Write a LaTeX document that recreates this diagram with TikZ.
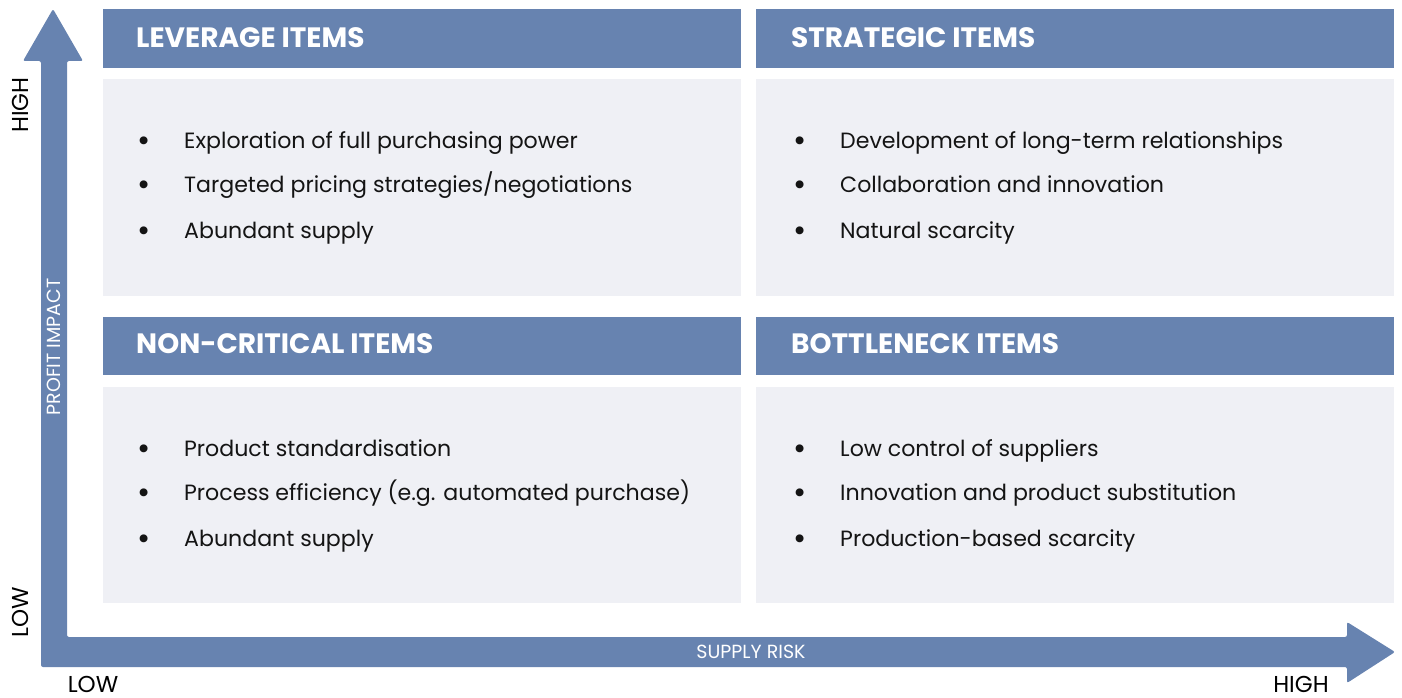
\documentclass[tikz,border=0pt]{standalone}
\usepackage{fontspec}
\setmainfont{Poppins}
\newfontfamily\itemfont{Poppins}
\newfontfamily\headfont{Poppins}
\definecolor{matrixblue}{HTML}{6783B0}
\definecolor{panelgrey}{HTML}{EFF0F5}
\definecolor{inktext}{HTML}{141414}
\tikzset{
  head/.style={fill=matrixblue, draw=none, minimum width=638, minimum height=59, inner sep=0, anchor=north west},
  panel/.style={fill=panelgrey, draw=none, minimum width=638, minimum height=217, inner sep=0, anchor=north west},
  headtext/.style={anchor=base west, inner sep=0, text=white, font=\headfont\bfseries\fontsize{28}{28}\selectfont},
  itemtext/.style={anchor=base west, inner sep=0, text=inktext, font=\itemfont\fontsize{22.1}{22.1}\selectfont},
  bullet/.style={anchor=base, inner sep=0, text=inktext, font=\itemfont\fontsize{32}{32}\selectfont},
  axislabel/.style={inner sep=0, text=black, font=\fontsize{23}{23}\selectfont},
  axisname/.style={inner sep=0, text=white, font=\fontsize{19}{19}\selectfont},
}
\begin{document}
\begin{tikzpicture}[x=1pt,y=-1pt]
\useasboundingbox (0,0) rectangle (1402,698);

% axes: one L-shaped arrow body with two heads
\coordinate (ytip) at (53,9);
\coordinate (xtip) at (1395,652);
\fill[matrixblue, rounded corners=2]
  (41,667) -- (41,61) -- (23,61) -- (ytip) -- (83,61) -- (67,61)
  -- (67,637) -- (1347,637) -- (1347,622) -- (xtip) -- (1347,683)
  -- (1347,667) -- cycle;

% quadrant headers
\node[head] (hLev) at (103,9) {};
\node[head] (hStr) at (756,9) {};
\node[head, minimum height=58] (hNon) at (103,317) {};
\node[head, minimum height=58] (hBot) at (756,317) {};

% quadrant panels
\node[panel] (pLev) at (103,79) {};
\node[panel] (pStr) at (756,79) {};
\node[panel, minimum height=216] (pNon) at (103,387) {};
\node[panel, minimum height=216] (pBot) at (756,387) {};

% header titles
\node[headtext] (tLev) at (136,48) {LEVERAGE ITEMS};
\node[headtext] (tStr) at (791,48) {STRATEGIC ITEMS};
\node[headtext] (tNon) at (136,353) {NON-CRITICAL ITEMS};
\node[headtext] (tBot) at (791,353) {BOTTLENECK ITEMS};

% leverage items
\node[bullet] (bL1) at (144,151.5) {•};
\node[bullet] (bL2) at (144,195.5) {•};
\node[bullet] (bL3) at (144,241.5) {•};
\node[itemtext] (iL1) at (184,148) {Exploration of full purchasing power};
\node[itemtext] (iL2) at (184,192) {Targeted pricing strategies/negotiations};
\node[itemtext] (iL3) at (184,238) {Abundant supply};

% strategic items
\node[bullet] (bS1) at (800,151.5) {•};
\node[bullet] (bS2) at (800,195.5) {•};
\node[bullet] (bS3) at (800,241.5) {•};
\node[itemtext] (iS1) at (840,148) {Development of long-term relationships};
\node[itemtext] (iS2) at (840,192) {Collaboration and innovation};
\node[itemtext] (iS3) at (840,238) {Natural scarcity};

% non-critical items
\node[bullet] (bN1) at (144,459.5) {•};
\node[bullet] (bN2) at (144,503.5) {•};
\node[bullet] (bN3) at (144,549.5) {•};
\node[itemtext] (iN1) at (184,456) {Product standardisation};
\node[itemtext] (iN2) at (184,500) {Process efficiency (e.g. automated purchase)};
\node[itemtext] (iN3) at (184,546) {Abundant supply};

% bottleneck items
\node[bullet] (bB1) at (800,459.5) {•};
\node[bullet] (bB2) at (800,503.5) {•};
\node[bullet] (bB3) at (800,549.5) {•};
\node[itemtext] (iB1) at (840,456) {Low control of suppliers};
\node[itemtext] (iB2) at (840,500) {Innovation and product substitution};
\node[itemtext] (iB3) at (840,546) {Production-based scarcity};

% axis labels
\node[axislabel, rotate=90] (yHigh) at (20,105) {HIGH};
\node[axislabel, rotate=90] (yLow) at (20,612) {LOW};
\node[axisname, rotate=90] (yName) at (54,347) {PROFIT IMPACT};
\node[axisname] (xName) at (751,652) {SUPPLY RISK};
\node[axislabel, anchor=base] (xLow) at (93,692) {LOW};
\node[axislabel, anchor=base] (xHigh) at (1301,692) {HIGH};
\end{tikzpicture}
\end{document}
